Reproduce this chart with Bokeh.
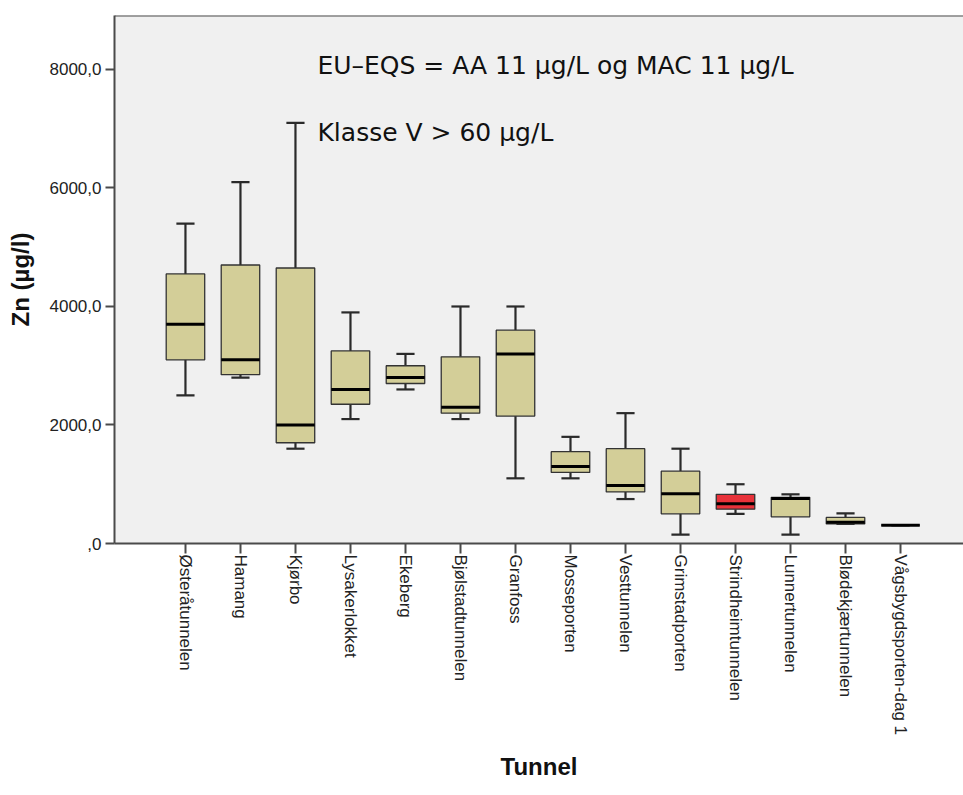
import math
import numpy as np
from bokeh.plotting import figure
from bokeh.models import Range1d, FixedTicker, Span, Label, ColumnDataSource
from bokeh.embed import file_html
from bokeh.resources import INLINE

# ---- data ----
tunnels = ["Østeråtunnelen", "Hamang", "Kjørbo", "Lysakerlokket", "Ekeberg",
           "Bjølstadtunnelen", "Granfoss", "Mosseporten", "Vesttunnelen",
           "Grimstadporten", "Strindheimtunnelen", "Lunnertunnelen",
           "Blødekjærtunnelen", "Vågsbygdsporten-dag 1"]
whisker_low = [2500, 2800, 1600, 2100, 2600, 2100, 1100, 1100, 750, 150, 500, 150, 330, 310]
q1 = [3100, 2850, 1700, 2350, 2700, 2200, 2150, 1200, 870, 500, 580, 450, 330, 310]
median = [3700, 3100, 2000, 2600, 2800, 2300, 3200, 1300, 980, 840, 670, 760, 360, 310]
q3 = [4550, 4700, 4650, 3250, 3000, 3150, 3600, 1550, 1600, 1220, 830, 780, 440, 310]
whisker_high = [5400, 6100, 7100, 3900, 3200, 4000, 4000, 1800, 2200, 1600, 1000, 830, 510, 310]

y_ticks = [0, 2000, 4000, 6000, 8000]
y_tick_labels = [",0", "2000,0", "4000,0", "6000,0", "8000,0"]

note_1 = "EU\u2013EQS = AA 11 µg/L og MAC 11 µg/L"
note_2 = "Klasse V > 60 µg/L"
highlight = "Strindheimtunnelen"

# ---- layout / style ----
BOX_W = 0.70
CAP_W = 0.33
BOX_FILL = "#D3CE98"
HIGHLIGHT_FILL = "#E8323A"
LINE_DARK = "#2a2a2a"
AXIS_COLOR = "#4a4a4a"
Y_END = 8911

idx = np.arange(len(tunnels))
src = ColumnDataSource(dict(
    x=idx,
    low=whisker_low, q1=q1, med=median, q3=q3, high=whisker_high,
    fill=[HIGHLIGHT_FILL if t == highlight else BOX_FILL for t in tunnels],
    xl=idx - BOX_W / 2, xr=idx + BOX_W / 2,
    cl=idx - CAP_W / 2, cr=idx + CAP_W / 2,
))

p = figure(width=963, height=795,
           x_range=Range1d(-1.29, len(tunnels) + 0.145),
           y_range=Range1d(0, Y_END),
           output_backend="svg", toolbar_location=None,
           min_border_left=114, min_border_top=15,
           min_border_right=0, min_border_bottom=252)

p.background_fill_color = "#F0F0F0"
p.border_fill_color = "white"
p.outline_line_color = None
p.xgrid.visible = False
p.ygrid.visible = False

# whiskers
p.segment(x0="x", y0="q3", x1="x", y1="high", source=src, line_color=LINE_DARK, line_width=2.2)
p.segment(x0="x", y0="q1", x1="x", y1="low", source=src, line_color=LINE_DARK, line_width=2.2)
# caps
p.segment(x0="cl", y0="high", x1="cr", y1="high", source=src, line_color=LINE_DARK, line_width=2.2)
p.segment(x0="cl", y0="low", x1="cr", y1="low", source=src, line_color=LINE_DARK, line_width=2.2)
# boxes
p.vbar(x="x", width=BOX_W, bottom="q1", top="q3", source=src,
       fill_color="fill", line_color="#333333", line_width=1.3)
# medians
p.segment(x0="xl", y0="med", x1="xr", y1="med", source=src, line_color="black", line_width=3)

# top frame line
p.add_layout(Span(location=Y_END, dimension="width", line_color=AXIS_COLOR, line_width=2))

# annotations
for txt, yv in [(note_1, 8068), (note_2, 6937)]:
    p.add_layout(Label(x=2.4, y=yv, text=txt, text_font="DejaVu Sans",
                       text_font_size="25px", text_color="#111111",
                       text_baseline="alphabetic", text_align="left"))

# y axis
ya = p.yaxis[0]
ya.ticker = FixedTicker(ticks=y_ticks)
ya.major_label_overrides = {t: l for t, l in zip(y_ticks, y_tick_labels)}
ya.minor_tick_line_color = None
ya.major_tick_in = 0
ya.major_tick_out = 9
ya.major_tick_line_width = 2
ya.major_tick_line_color = AXIS_COLOR
ya.axis_line_width = 2
ya.axis_line_color = AXIS_COLOR
ya.major_label_standoff = 4
ya.major_label_text_font = "Liberation Sans"
ya.major_label_text_font_size = "17px"
ya.major_label_text_color = "#222222"
ya.axis_label = "Zn (µg/l)"
ya.axis_label_text_font = "Liberation Sans"
ya.axis_label_text_font_style = "bold"
ya.axis_label_text_font_size = "24px"
ya.axis_label_text_color = "#111111"
ya.axis_label_standoff = 13

# x axis
xa = p.xaxis[0]
xa.ticker = FixedTicker(ticks=list(idx))
xa.major_label_overrides = {int(i): t for i, t in zip(idx, tunnels)}
xa.major_label_orientation = -math.pi / 2
xa.minor_tick_line_color = None
xa.major_tick_in = 0
xa.major_tick_out = 10
xa.major_tick_line_width = 2
xa.major_tick_line_color = AXIS_COLOR
xa.axis_line_width = 2
xa.axis_line_color = AXIS_COLOR
xa.major_label_standoff = 1
xa.major_label_text_font = "Liberation Sans"
xa.major_label_text_font_size = "17px"
xa.major_label_text_color = "#222222"
xa.axis_label = "Tunnel"
xa.axis_label_text_font = "Liberation Sans"
xa.axis_label_text_font_style = "bold"
xa.axis_label_text_font_size = "24px"
xa.axis_label_text_color = "#111111"
xa.axis_label_standoff = 15

open("out.html", "w").write(file_html(p, INLINE))
